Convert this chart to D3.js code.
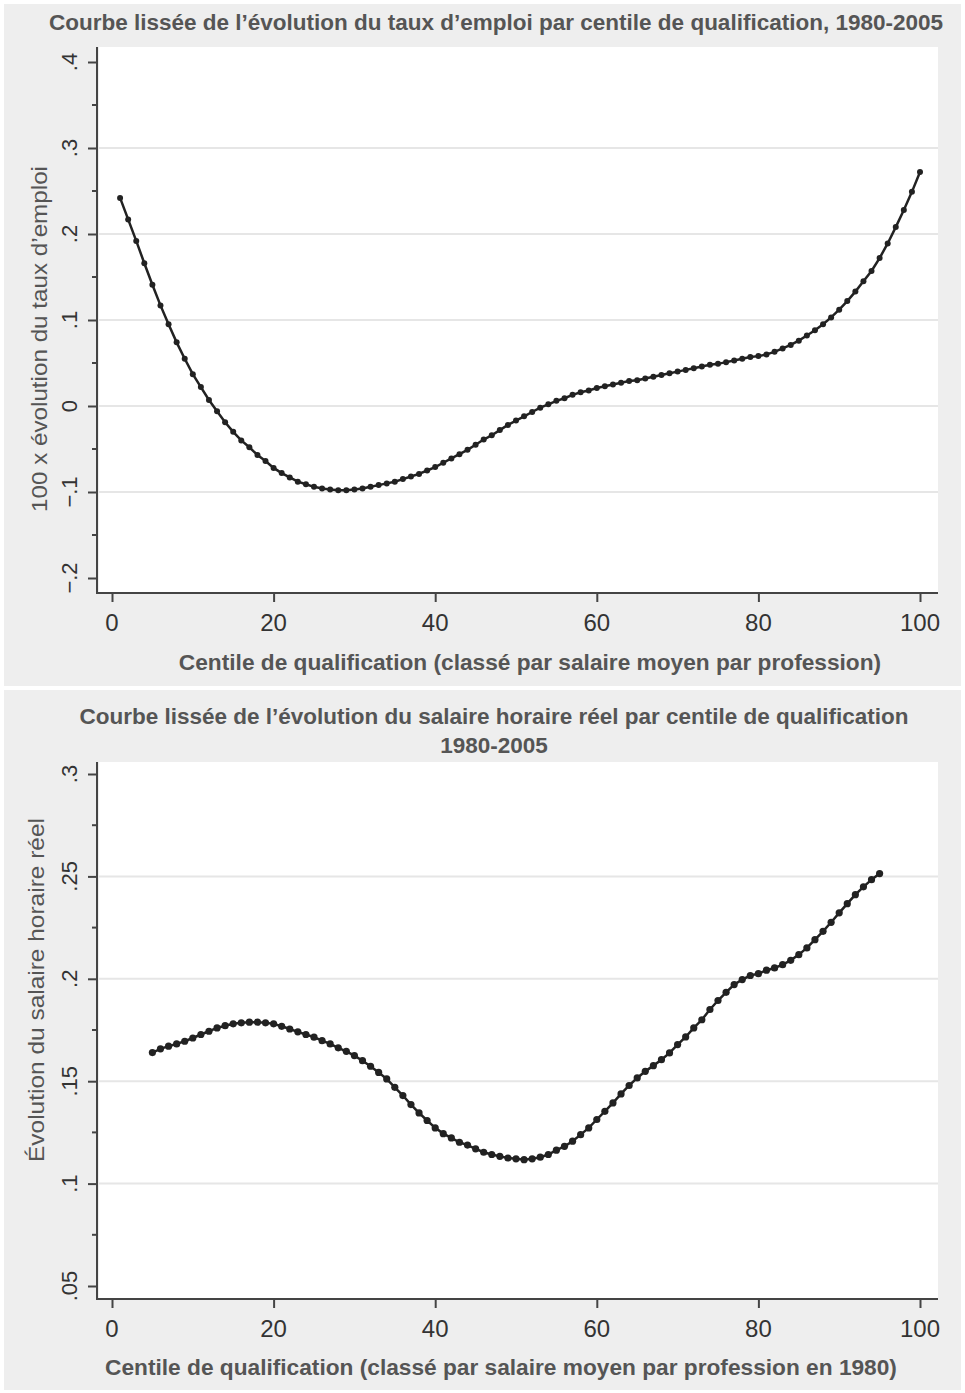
<!DOCTYPE html>
<html>
<head>
<meta charset="utf-8">
<script src="https://cdn.jsdelivr.net/npm/d3@7"></script>
<style>
  body { margin: 0; background: #fff; }
  text { font-family: "Liberation Sans", Arial, sans-serif; }
</style>
</head>
<body>
<div id="chart"></div>
<script>
// centiles de qualification
const centilesEmploi = [
  1, 2, 3, 4, 5, 6, 7, 8, 9, 10, 11, 12, 13, 14, 15, 16, 17, 18, 19, 20,
  21, 22, 23, 24, 25, 26, 27, 28, 29, 30, 31, 32, 33, 34, 35, 36, 37, 38, 39, 40,
  41, 42, 43, 44, 45, 46, 47, 48, 49, 50, 51, 52, 53, 54, 55, 56, 57, 58, 59, 60,
  61, 62, 63, 64, 65, 66, 67, 68, 69, 70, 71, 72, 73, 74, 75, 76, 77, 78, 79, 80,
  81, 82, 83, 84, 85, 86, 87, 88, 89, 90, 91, 92, 93, 94, 95, 96, 97, 98, 99, 100
];
// 100 x évolution du taux d'emploi
const tauxEmploi = [
  0.242, 0.217, 0.192, 0.166, 0.141, 0.117, 0.095, 0.074, 0.055, 0.037,
  0.022, 0.007, -0.006, -0.019, -0.030, -0.040, -0.048, -0.057, -0.064, -0.072,
  -0.078, -0.083, -0.088, -0.091, -0.094, -0.096, -0.097, -0.098, -0.098, -0.097,
  -0.096, -0.094, -0.092, -0.090, -0.088, -0.085, -0.082, -0.079, -0.075, -0.071,
  -0.066, -0.061, -0.056, -0.051, -0.045, -0.039, -0.034, -0.028, -0.022, -0.017,
  -0.012, -0.007, -0.002, 0.002, 0.006, 0.009, 0.013, 0.016, 0.018, 0.021,
  0.023, 0.025, 0.027, 0.029, 0.030, 0.032, 0.034, 0.036, 0.038, 0.040,
  0.042, 0.044, 0.046, 0.048, 0.049, 0.051, 0.053, 0.055, 0.057, 0.058,
  0.060, 0.063, 0.067, 0.071, 0.076, 0.082, 0.088, 0.095, 0.103, 0.112,
  0.122, 0.133, 0.145, 0.157, 0.172, 0.189, 0.208, 0.228, 0.249, 0.272
];

const centilesSalaire = [
  5, 6, 7, 8, 9, 10, 11, 12, 13, 14, 15, 16, 17, 18, 19, 20,
  21, 22, 23, 24, 25, 26, 27, 28, 29, 30, 31, 32, 33, 34, 35, 36, 37, 38, 39, 40,
  41, 42, 43, 44, 45, 46, 47, 48, 49, 50, 51, 52, 53, 54, 55, 56, 57, 58, 59, 60,
  61, 62, 63, 64, 65, 66, 67, 68, 69, 70, 71, 72, 73, 74, 75, 76, 77, 78, 79, 80,
  81, 82, 83, 84, 85, 86, 87, 88, 89, 90, 91, 92, 93, 94, 95
];
// évolution du salaire horaire réel
const salaireHoraire = [
  0.1640, 0.1658, 0.1671, 0.1682, 0.1695, 0.1711, 0.1728, 0.1744, 0.1760, 0.1771,
  0.1780, 0.1785, 0.1788, 0.1788, 0.1785, 0.1780,
  0.1768, 0.1755, 0.1741, 0.1728, 0.1715, 0.1698, 0.1682, 0.1663, 0.1646, 0.1625,
  0.1600, 0.1573, 0.1543, 0.1511, 0.1470, 0.1430, 0.1386, 0.1345, 0.1308, 0.1272,
  0.1244, 0.1223, 0.1202, 0.1188, 0.1170, 0.1153, 0.1142, 0.1133, 0.1125, 0.1121,
  0.1117, 0.1121, 0.1129, 0.1142, 0.1163, 0.1182, 0.1207, 0.1239, 0.1272, 0.1313,
  0.1353, 0.1394, 0.1438, 0.1479, 0.1516, 0.1548, 0.1576, 0.1605, 0.1638, 0.1679,
  0.1716, 0.1760, 0.1800, 0.1850, 0.1894, 0.1934, 0.1972, 0.1996, 0.2016, 0.2025,
  0.2042, 0.2053, 0.2069, 0.2090, 0.2118, 0.2151, 0.2191, 0.2232, 0.2276, 0.2322,
  0.2367, 0.2411, 0.2449, 0.2484, 0.2514
];

const xTicks = [0, 20, 40, 60, 80, 100];
const yTicksEmploi = [-0.2, -0.1, 0, 0.1, 0.2, 0.3, 0.4];
const yTicksSalaire = [0.05, 0.1, 0.15, 0.2, 0.25, 0.3];

const W = 965, H = 1393;
const svg = d3.select("#chart").append("svg")
  .attr("width", W).attr("height", H);

const fmt = v => {
  if (v === 0) return "0";
  return d3.format("")(+v.toFixed(2)).replace("0.", ".");
};

function panel(cfg) {
  const g = svg.append("g");

  // fond gris du graphique
  g.append("rect")
    .attr("x", 4).attr("y", cfg.top).attr("width", W - 8).attr("height", cfg.bottom - cfg.top)
    .attr("fill", "#eeeeee");

  // zone de tracé
  g.append("rect")
    .attr("x", cfg.plot.left).attr("y", cfg.plot.top)
    .attr("width", cfg.plot.right - cfg.plot.left)
    .attr("height", cfg.plot.bottom - cfg.plot.top)
    .attr("fill", "#fff");

  const x = d3.scaleLinear().domain([0, 100]).range([112, 920]);
  const y = d3.scaleLinear().domain(cfg.yDomain).range(cfg.yRange);

  // grille
  g.selectAll(".grid")
    .data(cfg.yTicks.slice(1, -1))
    .join("line")
      .attr("x1", cfg.plot.left).attr("x2", cfg.plot.right)
      .attr("y1", d => y(d)).attr("y2", d => y(d))
      .attr("stroke", "#e6e6e6").attr("stroke-width", 2);

  // axe Y
  const yAxis = g.append("g")
    .attr("transform", `translate(${cfg.plot.left - 2},0)`)
    .call(d3.axisLeft(y).tickValues(cfg.yTicks).tickSize(9).tickFormat(""));
  yAxis.select(".domain").attr("d", `M0,${cfg.plot.top}V${cfg.plot.bottom}`);
  const minor = [];
  for (let i = 0; i < cfg.yTicks.length - 1; i++) minor.push((cfg.yTicks[i] + cfg.yTicks[i + 1]) / 2);
  yAxis.selectAll(".minor")
    .data(minor)
    .join("line")
      .attr("x1", -5).attr("x2", 0)
      .attr("y1", d => y(d)).attr("y2", d => y(d));
  yAxis.selectAll("line, path").attr("stroke", "#444").attr("stroke-width", 2);

  g.selectAll(".ylab")
    .data(cfg.yTicks)
    .join("text")
      .attr("transform", d => `translate(77,${y(d)}) rotate(-90)`)
      .attr("text-anchor", "middle")
      .attr("font-size", 22)
      .attr("fill", "#333")
      .text(fmt);

  // axe X
  const xAxis = g.append("g")
    .attr("transform", `translate(0,${cfg.plot.bottom})`)
    .call(d3.axisBottom(x).tickValues(xTicks).tickSize(9).tickFormat(""));
  xAxis.select(".domain").attr("d", `M${cfg.plot.left - 3},0H${cfg.plot.right}`);
  xAxis.selectAll("line, path").attr("stroke", "#444").attr("stroke-width", 2);

  g.selectAll(".xlab")
    .data(xTicks)
    .join("text")
      .attr("x", d => x(d))
      .attr("y", cfg.plot.bottom + 38)
      .attr("text-anchor", "middle")
      .attr("font-size", 24)
      .attr("fill", "#333")
      .text(d => d);

  // courbe
  const pts = cfg.xs.map((c, i) => [c, cfg.ys[i]]);
  g.append("path")
    .datum(pts)
    .attr("d", d3.line().x(d => x(d[0])).y(d => y(d[1])))
    .attr("fill", "none")
    .attr("stroke", "#222")
    .attr("stroke-width", 2.5);
  g.selectAll(".pt")
    .data(pts)
    .join("circle")
      .attr("cx", d => x(d[0])).attr("cy", d => y(d[1]))
      .attr("r", cfg.r)
      .attr("fill", "#222");

  // textes
  cfg.title.forEach((t, i) => {
    g.append("text")
      .attr("x", cfg.titleX).attr("y", cfg.titleY + i * 29)
      .attr("text-anchor", "middle")
      .attr("font-size", 22.5).attr("font-weight", "bold")
      .attr("fill", "#555")
      .text(t);
  });
  g.append("text")
    .attr("x", cfg.xTitleX).attr("y", cfg.xTitleY)
    .attr("text-anchor", "middle")
    .attr("font-size", 22.7).attr("font-weight", "bold")
    .attr("fill", "#555")
    .text(cfg.xTitle);
  g.append("text")
    .attr("transform", `translate(${cfg.yTitleX},${cfg.yTitleY}) rotate(-90)`)
    .attr("text-anchor", "middle")
    .attr("font-size", 22)
    .attr("textLength", cfg.yTitleLen)
    .attr("lengthAdjust", "spacingAndGlyphs")
    .attr("fill", "#555")
    .text(cfg.yTitle);
}

panel({
  top: 4, bottom: 686,
  plot: {left: 99, right: 938, top: 47, bottom: 593},
  yDomain: [-0.2, 0.4], yRange: [578, 62], yTicks: yTicksEmploi,
  xs: centilesEmploi, ys: tauxEmploi, r: 3,
  title: ["Courbe lissée de l’évolution du taux d’emploi par centile de qualification, 1980-2005"],
  titleX: 496, titleY: 30,
  xTitle: "Centile de qualification (classé par salaire moyen par profession)",
  xTitleX: 530, xTitleY: 670,
  yTitle: "100 x évolution du taux d’emploi", yTitleX: 47, yTitleY: 339, yTitleLen: 346
});

panel({
  top: 690, bottom: 1390,
  plot: {left: 99, right: 938, top: 762, bottom: 1299},
  yDomain: [0.05, 0.3], yRange: [1286, 774], yTicks: yTicksSalaire,
  xs: centilesSalaire, ys: salaireHoraire, r: 3.6,
  title: ["Courbe lissée de l’évolution du salaire horaire réel par centile de qualification", "1980-2005"],
  titleX: 494, titleY: 724,
  xTitle: "Centile de qualification (classé par salaire moyen par profession en 1980)",
  xTitleX: 501, xTitleY: 1375,
  yTitle: "Évolution du salaire horaire réel", yTitleX: 44, yTitleY: 990, yTitleLen: 344
});
</script>
</body>
</html>
